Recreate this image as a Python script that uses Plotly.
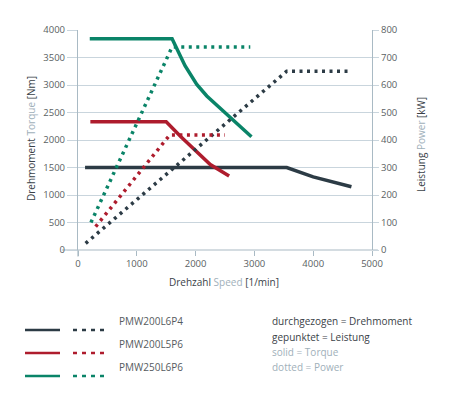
import plotly.graph_objects as go

# ---- data ----
series_names = ["PMW200L6P4", "PMW200L5P6", "PMW250L6P6"]
colors = ["#2c3b45", "#ae1c2d", "#0a8468"]

torque_speed = [
    [120, 3550, 4000, 4650],
    [210, 1500, 1750, 2000, 2250, 2570],
    [200, 1600, 1820, 2020, 2190, 2950],
]
torque_vals = [
    [1500, 1500, 1330, 1150],
    [2330, 2330, 2060, 1800, 1555, 1345],
    [3840, 3840, 3350, 3010, 2800, 2060],
]
power_speed = [
    [130, 3550, 4650],
    [300, 1560, 2500],
    [220, 1600, 2930],
]
power_vals = [
    [24, 650, 650],
    [85, 418, 418],
    [100, 738, 738],
]

x_ticks = [0, 1000, 2000, 3000, 4000, 5000]
y_ticks = [0, 500, 1000, 1500, 2000, 2500, 3000, 3500, 4000]
y2_ticks = [0, 100, 200, 300, 400, 500, 600, 700, 800]

FONT = "Open Sans"
GRID = "#c9d5dd"
AXIS = "#a9bac4"
TICKTXT = "#5a5f63"
LIGHT = "#9fb0ba"
DARK = "#3a4248"

fig = go.Figure()
for i in range(3):
    fig.add_trace(go.Scatter(
        x=torque_speed[i], y=torque_vals[i], mode="lines",
        line=dict(color=colors[i], width=3.5), yaxis="y", showlegend=False,
        hoverinfo="skip"))
for i in range(3):
    fig.add_trace(go.Scatter(
        x=power_speed[i], y=power_vals[i], mode="lines",
        line=dict(color=colors[i], width=3.5, dash="3px,4.5px"), yaxis="y2",
        showlegend=False, hoverinfo="skip"))

# page has an 8px body margin; plot area should span page px x 78..372, y 30..250
fig.update_layout(
    width=450, height=396,
    margin=dict(l=70, r=86, t=22, b=154),
    paper_bgcolor="white", plot_bgcolor="white",
    font=dict(family=FONT, size=9.5, color=TICKTXT),
    xaxis=dict(range=[0, 5000], tickvals=x_ticks, showgrid=False,
               zeroline=False, showline=False,
               ticks="outside", ticklen=5, tickcolor=AXIS, tickwidth=1,
               tickfont=dict(size=9.5, color=TICKTXT)),
    yaxis=dict(range=[0, 4000], tickvals=y_ticks, showgrid=True,
               gridcolor=GRID, gridwidth=1, zeroline=False,
               showline=True, linecolor=AXIS, linewidth=1.2,
               ticks="outside", ticklen=10, tickcolor=GRID,
               tickfont=dict(size=9.5, color=TICKTXT)),
    yaxis2=dict(range=[0, 800], tickvals=y2_ticks, overlaying="y", side="right",
                showgrid=False, zeroline=False, showline=True,
                linecolor=AXIS, linewidth=1.2,
                ticks="outside", ticklen=6, tickcolor=GRID,
                tickfont=dict(size=9.5, color=TICKTXT)),
)

# bottom axis line (0 gridline extended)
fig.add_shape(type="line", xref="paper", yref="paper", x0=-0.055, x1=1.02,
              y0=0, y1=0, line=dict(color=AXIS, width=1.2), layer="below")
fig.add_shape(type="line", xref="paper", yref="paper", x0=0, x1=0,
              y0=0, y1=-0.03, line=dict(color=AXIS, width=1.2), layer="below")

def px2paper(px, py):
    return (px - 78) / 294.0, (250 - py) / 220.0

# axis titles
ax, ay = px2paper(22, 139)
fig.add_annotation(xref="paper", yref="paper", x=ax, y=ay, textangle=-90,
                   showarrow=False, font=dict(size=10, color=DARK, family=FONT),
                   text=f"Drehmoment <span style='color:{LIGHT}'>Torque</span> [Nm]")
ax, ay = px2paper(430, 145)
fig.add_annotation(xref="paper", yref="paper", x=ax, y=ay, textangle=-90,
                   showarrow=False, font=dict(size=10, color=DARK, family=FONT),
                   text=f"Leistung <span style='color:{LIGHT}'>Power</span> [kW]")
ax, ay = px2paper(224, 291)
fig.add_annotation(xref="paper", yref="paper", x=ax, y=ay,
                   showarrow=False, font=dict(size=10, color=DARK, family=FONT),
                   text=f"Drehzahl <span style='color:{LIGHT}'>Speed</span> [1/min]")

# custom legend
rows_y = [330, 353, 376]
for i in range(3):
    x0, y0 = px2paper(25, rows_y[i])
    x1, _ = px2paper(60, rows_y[i])
    fig.add_shape(type="line", xref="paper", yref="paper", x0=x0, x1=x1,
                  y0=y0, y1=y0, line=dict(color=colors[i], width=2.5))
    x2, _ = px2paper(73, rows_y[i])
    x3, _ = px2paper(106, rows_y[i])
    fig.add_shape(type="line", xref="paper", yref="paper", x0=x2, x1=x3,
                  y0=y0, y1=y0, line=dict(color=colors[i], width=2.5, dash="4px,5px"))
    tx, _ = px2paper(117, rows_y[i])
    fig.add_annotation(xref="paper", yref="paper", x=tx, y=y0, xanchor="left",
                       showarrow=False, text=series_names[i],
                       font=dict(size=10, color="#555b60", family=FONT))

notes = [("durchgezogen = Drehmoment", DARK, 330),
         ("gepunktet = Leistung", DARK, 346),
         ("solid = Torque", LIGHT, 361),
         ("dotted = Power", LIGHT, 376)]
for txt, col, py in notes:
    tx, ty = px2paper(270, py)
    fig.add_annotation(xref="paper", yref="paper", x=tx, y=ty, xanchor="left",
                       showarrow=False, text=txt,
                       font=dict(size=10, color=col, family=FONT))

fig.write_html("out.html")
